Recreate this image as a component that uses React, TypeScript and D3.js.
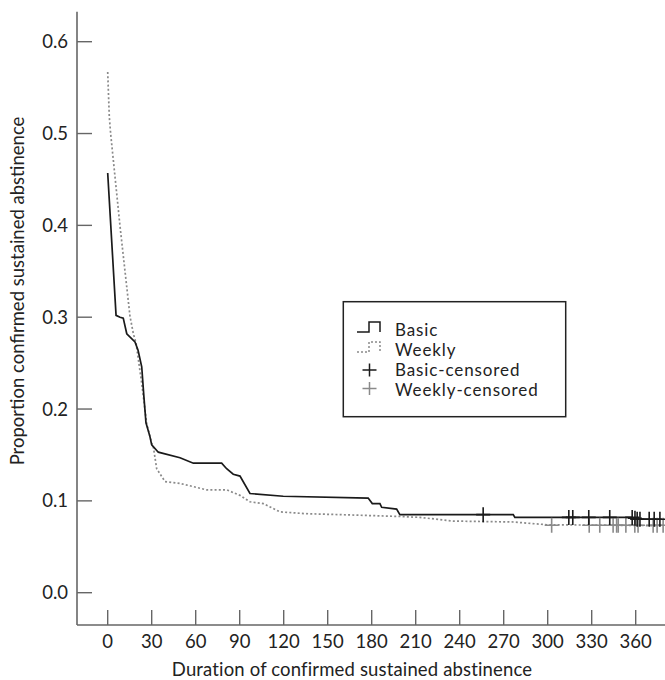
import React from "react";
import * as d3 from "d3";

// curves (day, proportion)
const basicDays = [0, 5.7, 8.4, 10.6, 13, 18.6, 20.7, 23.2, 24.7, 26.1, 28.8, 30, 34.5, 49.3, 58.4, 77.7, 81.1, 85.6, 90.2, 97, 119.7, 177.6, 180.4, 185.6, 186.8, 197, 199.2, 276.5, 277.6, 357.4, 358, 378];
const basicSurv = [0.457, 0.302, 0.3, 0.299, 0.282, 0.273, 0.264, 0.246, 0.213, 0.185, 0.17, 0.161, 0.153, 0.147, 0.141, 0.141, 0.135, 0.129, 0.127, 0.108, 0.105, 0.103, 0.097, 0.097, 0.093, 0.091, 0.085, 0.085, 0.082, 0.082, 0.08, 0.08];

const weeklyDays = [0, 1.1, 2, 8.4, 15.2, 17.5, 19.3, 23.2, 26.6, 30, 31.1, 33.4, 39.1, 49.3, 67.5, 81.1, 90.2, 97, 106.1, 117.5, 135.7, 158.4, 199.2, 212.9, 235.6, 276.5, 299.3, 378];
const weeklySurv = [0.567, 0.518, 0.5, 0.399, 0.301, 0.282, 0.272, 0.228, 0.184, 0.163, 0.159, 0.135, 0.121, 0.119, 0.112, 0.112, 0.106, 0.099, 0.097, 0.088, 0.086, 0.085, 0.083, 0.082, 0.078, 0.077, 0.074, 0.073];

const basicCensorDays = [256, 314.4, 317.1, 328, 342.3, 357.6, 359.5, 361, 362.9, 369.2, 372.6, 376.5];
const basicCensorSurv = [0.085, 0.082, 0.082, 0.082, 0.082, 0.082, 0.081, 0.08, 0.08, 0.08, 0.08, 0.08];

const weeklyCensorDays = [302.7, 328.3, 335.5, 344.6, 347, 348.1, 353.3, 359.4, 361.6, 371.9, 374.6, 378.7];
const weeklyCensorSurv = [0.0735, 0.0735, 0.0735, 0.0735, 0.0735, 0.0735, 0.0735, 0.0735, 0.0735, 0.0735, 0.0735, 0.0735];

const xTicks = d3.range(0, 361, 30);
const yTicks = [0, 0.1, 0.2, 0.3, 0.4, 0.5, 0.6];
const legendLabels = ["Basic", "Weekly", "Basic-censored", "Weekly-censored"];

const font = "Lato, 'Noto Sans', sans-serif";
const axisColor = "#666";

const App = () => {
  const width = 665;
  const height = 680;

  const x = d3.scaleLinear().domain([0, 360]).range([107.7, 635.7]);
  const y = d3.scaleLinear().domain([0, 0.6]).range([592.7, 41.7]);

  const axisLeft = 77;
  const axisBottom = 625;
  const axisTop = 11.7;

  const line = d3
    .line<[number, number]>()
    .x((d) => x(d[0]))
    .y((d) => y(d[1]));

  const basic = basicDays.map((d, i) => [d, basicSurv[i]] as [number, number]);
  const weekly = weeklyDays.map((d, i) => [d, weeklySurv[i]] as [number, number]);

  const plus = (cx: number, cy: number, w: number, h: number) =>
    `M${cx - w / 2},${cy}H${cx + w / 2}M${cx},${cy - h / 2}V${cy + h / 2}`;

  // legend box
  const lx = 343.3;
  const ly = 301.7;
  const lw = 222.4;
  const lh = 115;
  const rowY = [335.5, 355.5, 375.5, 395.5];

  return (
    <svg
      width={width}
      height={height}
      style={{ position: "absolute", left: 0, top: 0, background: "#fff" }}
      fontFamily={font}
    >
      {/* axes */}
      <line x1={axisLeft} x2={axisLeft} y1={axisTop} y2={axisBottom} stroke={axisColor} strokeWidth={1.6} />
      <line x1={axisLeft} x2={width} y1={axisBottom} y2={axisBottom} stroke={axisColor} strokeWidth={1.6} />
      {xTicks.map((t) => (
        <g key={"x" + t}>
          <line x1={x(t)} x2={x(t)} y1={axisBottom - 15} y2={axisBottom} stroke={axisColor} strokeWidth={1.4} />
          <text x={x(t)} y={648} textAnchor="middle" fontSize={18.5} fill="#222">
            {t}
          </text>
        </g>
      ))}
      {yTicks.map((t) => (
        <g key={"y" + t}>
          <line x1={axisLeft} x2={axisLeft + 15} y1={y(t)} y2={y(t)} stroke={axisColor} strokeWidth={1.4} />
          <text x={68} y={y(t) + 6.5} textAnchor="end" fontSize={18.5} fill="#222">
            {t.toFixed(1)}
          </text>
        </g>
      ))}
      <text x={352} y={676} textAnchor="middle" fontSize={18.5} fill="#222" letterSpacing={0.15}>
        Duration of confirmed sustained abstinence
      </text>
      <text
        transform={`translate(24,291) rotate(-90)`}
        textAnchor="middle"
        fontSize={18.5}
        fill="#222"
      >
        Proportion confirmed sustained abstinence
      </text>

      {/* curves */}
      <path d={line(weekly) || ""} fill="none" stroke="#8a8a8a" strokeWidth={1.7} strokeDasharray="2 2.2" />
      <path d={line(basic) || ""} fill="none" stroke="#1a1a1a" strokeWidth={1.7} />

      {/* censor marks */}
      {weeklyCensorDays.map((d, i) => (
        <path key={"wc" + i} d={plus(x(d), y(weeklyCensorSurv[i]), 14, 15)} stroke="#8a8a8a" strokeWidth={1.6} fill="none" />
      ))}
      {basicCensorDays.map((d, i) => (
        <path key={"bc" + i} d={plus(x(d), y(basicCensorSurv[i]), 14, 15)} stroke="#1a1a1a" strokeWidth={1.6} fill="none" />
      ))}

      {/* legend */}
      <rect x={lx} y={ly} width={lw} height={lh} fill="#fff" stroke="#222" strokeWidth={1.5} />
      <path d={`M357,332H369V322H380V332`} fill="none" stroke="#1a1a1a" strokeWidth={1.5} />
      <path d={`M357,352H369V342H380V352`} fill="none" stroke="#8a8a8a" strokeWidth={1.5} strokeDasharray="2 2" />
      <path d={plus(369.5, 370, 14, 13)} stroke="#1a1a1a" strokeWidth={1.5} fill="none" />
      <path d={plus(369.5, 388.5, 14, 13)} stroke="#8a8a8a" strokeWidth={1.5} fill="none" />
      {legendLabels.map((l, i) => (
        <text key={l} x={395} y={rowY[i]} fontSize={17} fill="#222" letterSpacing={0.9}>
          {l}
        </text>
      ))}
    </svg>
  );
};

export default App;
